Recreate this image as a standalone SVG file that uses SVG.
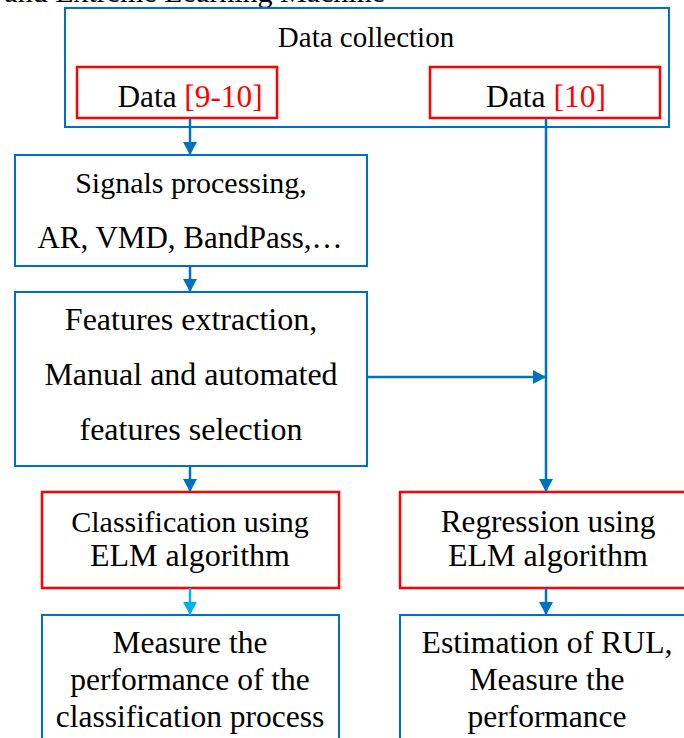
<svg xmlns="http://www.w3.org/2000/svg" width="684" height="738" viewBox="0 0 684 738">
  <style>
    text { font-family: "Liberation Serif", "Times New Roman", serif; fill: #000; text-anchor: middle; }
    .ref { fill: #FF0000; }
    .blue { fill: #FFFFFF; stroke: #0070C0; stroke-width: 2; }
    .red { fill: #FFFFFF; stroke: #FF0000; stroke-width: 2.5; }
    .wire { fill: none; stroke: #0070C0; stroke-width: 2.5; }
    .wire-light { fill: none; stroke: #00B0F0; stroke-width: 2.5; }
  </style>
  <defs>
    <marker id="arrow" viewBox="0 0 13 14" refX="13" refY="7" markerWidth="13" markerHeight="14" markerUnits="userSpaceOnUse" orient="auto">
      <path d="M0,0 L13,7 L0,14 z" fill="#0070C0"/>
    </marker>
    <marker id="arrow-light" viewBox="0 0 13 14" refX="13" refY="7" markerWidth="13" markerHeight="14" markerUnits="userSpaceOnUse" orient="auto">
      <path d="M0,0 L13,7 L0,14 z" fill="#00B0F0"/>
    </marker>
  </defs>

  <rect width="684" height="738" fill="#FFFFFF"/>

  <!-- caption line running above the figure -->
  <text x="385" y="1.5" font-size="30" style="text-anchor: end">e and Extreme Learning Machine</text>

  <g id="data-collection">
    <rect class="blue" x="65" y="8" width="604" height="119"/>
    <text x="366" y="47" font-size="29">Data collection</text>
  </g>

  <g id="data-9-10">
    <rect class="red" x="77" y="67" width="200" height="51"/>
    <text x="190" y="107" font-size="31.3">Data <tspan class="ref">[9-10]</tspan></text>
  </g>

  <g id="data-10">
    <rect class="red" x="430" y="67" width="230" height="51"/>
    <text x="546" y="107" font-size="31.5">Data <tspan class="ref">[10]</tspan></text>
  </g>

  <g id="signal-processing">
    <rect class="blue" x="15" y="155" width="352" height="111"/>
    <text x="191" y="193" font-size="30">Signals processing,</text>
    <text x="190" y="248" font-size="31">AR, VMD, BandPass,…</text>
  </g>

  <g id="feature-extraction">
    <rect class="blue" x="15" y="292" width="352" height="174"/>
    <text x="191" y="330" font-size="32">Features extraction,</text>
    <text x="191" y="385" font-size="32">Manual and automated</text>
    <text x="191" y="440" font-size="32">features selection</text>
  </g>

  <g id="classification">
    <rect class="red" x="42" y="492" width="297" height="96"/>
    <text x="190" y="532" font-size="30">Classification using</text>
    <text x="190" y="566" font-size="32">ELM algorithm</text>
  </g>

  <g id="regression">
    <rect class="red" x="400" y="492" width="300" height="96"/>
    <text x="548" y="532" font-size="31.3">Regression using</text>
    <text x="548" y="566" font-size="32">ELM algorithm</text>
  </g>

  <g id="classification-performance">
    <rect class="blue" x="42" y="615" width="297" height="140"/>
    <text x="190" y="653" font-size="31.5">Measure the</text>
    <text x="190" y="690" font-size="31.5">performance of the</text>
    <text x="190" y="727" font-size="31.5">classification process</text>
  </g>

  <g id="rul-estimation">
    <rect class="blue" x="400" y="615" width="300" height="140"/>
    <text x="547" y="653" font-size="31.7">Estimation of RUL,</text>
    <text x="547" y="690" font-size="31.5">Measure the</text>
    <text x="547" y="727" font-size="31.5">performance</text>
  </g>

  <g id="connectors">
    <path class="wire" d="M190,118 V155" marker-end="url(#arrow)"/>
    <path class="wire" d="M190,266 V292" marker-end="url(#arrow)"/>
    <path class="wire" d="M190,466 V492" marker-end="url(#arrow)"/>
    <path class="wire-light" d="M190,588 V615" marker-end="url(#arrow-light)"/>
    <path class="wire" d="M546,118 V492" marker-end="url(#arrow)"/>
    <path class="wire" d="M367,377 H546" marker-end="url(#arrow)"/>
    <path class="wire" d="M546,588 V615" marker-end="url(#arrow)"/>
  </g>
</svg>
